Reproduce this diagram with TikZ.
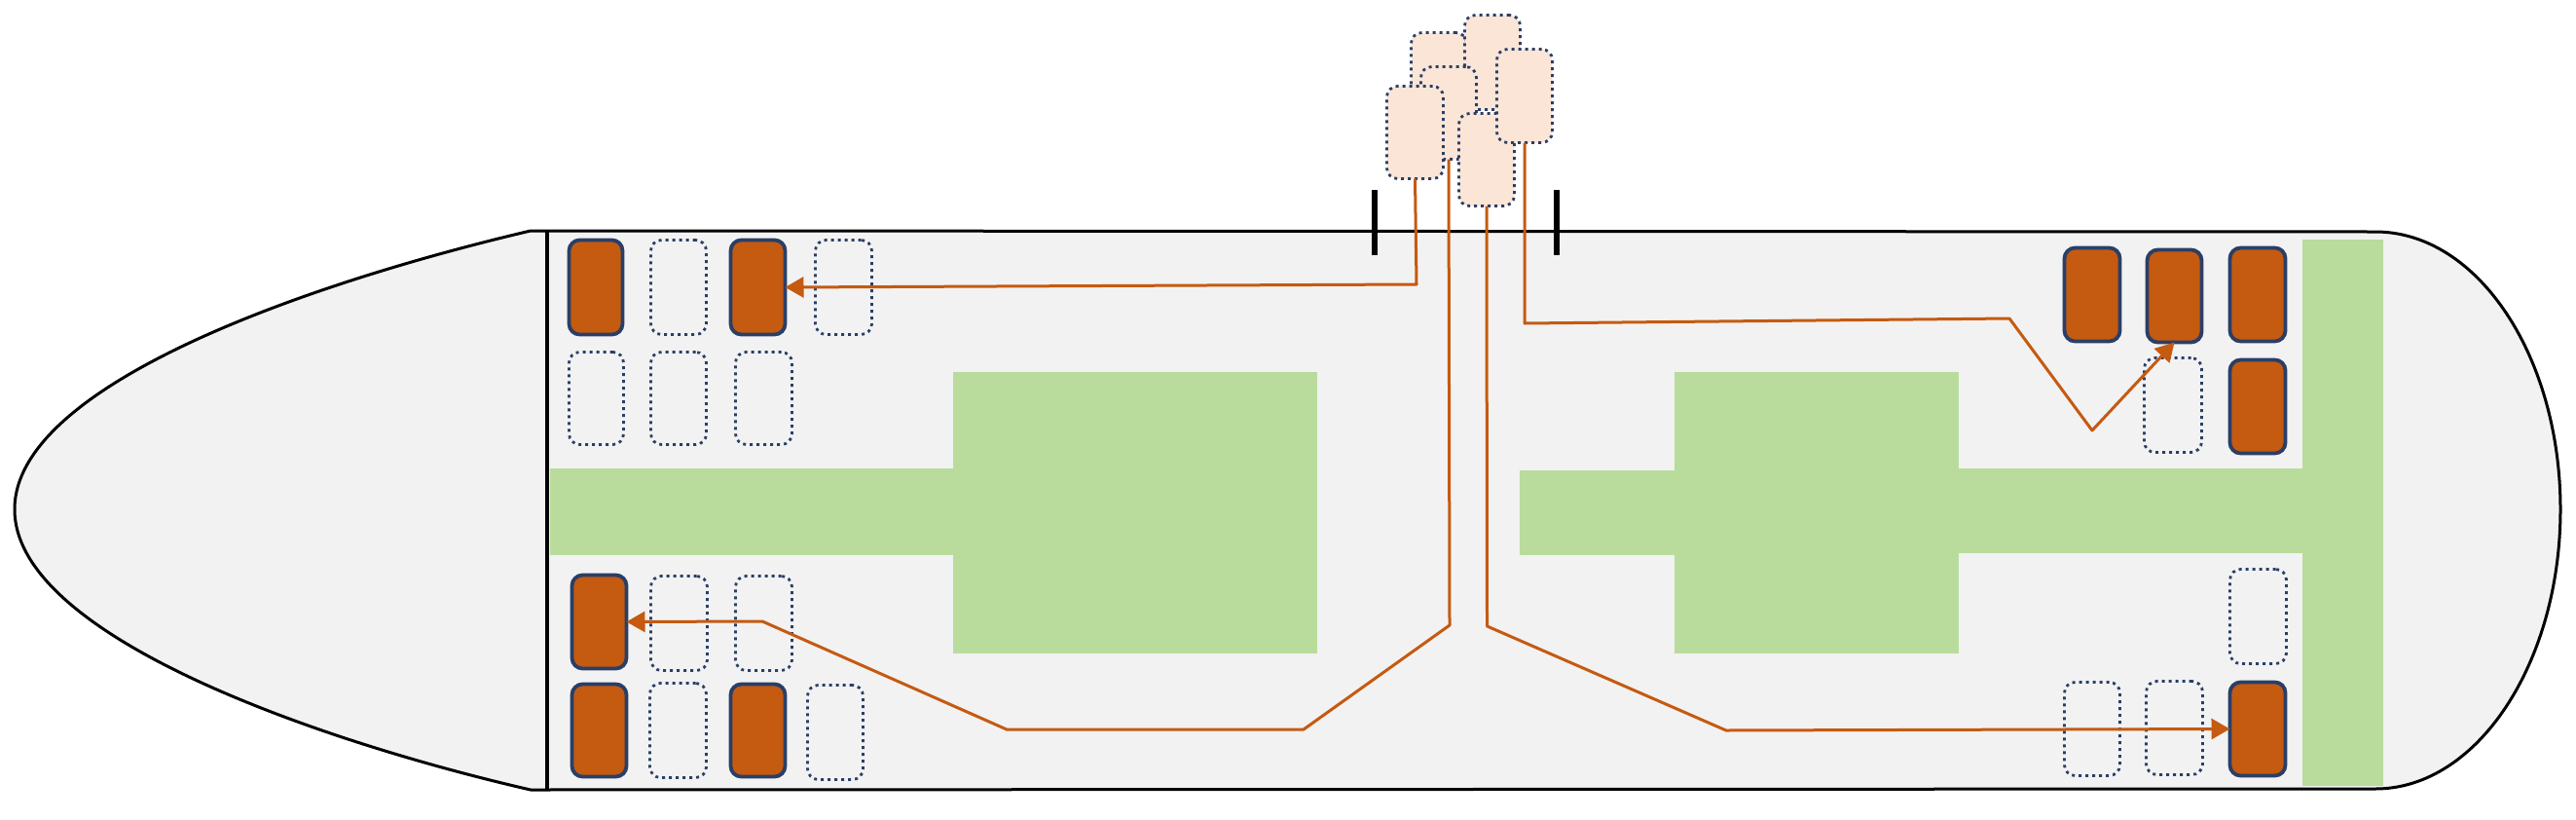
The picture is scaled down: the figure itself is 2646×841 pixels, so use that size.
\documentclass[tikz,border=0pt]{standalone}
\usetikzlibrary{arrows.meta}
\definecolor{hullgrey}{HTML}{F2F2F2}
\definecolor{zonegreen}{HTML}{B9DC9D}
\definecolor{cargo}{HTML}{C55A11}
\definecolor{navy}{HTML}{2A3F66}
\definecolor{peach}{HTML}{FBE5D6}
\tikzset{
  hull/.style={draw=black,line width=1.5pt,fill=hullgrey,line join=round},
  zone/.style={fill=zonegreen,draw=none},
  slotbase/.style={rectangle,rounded corners=5.5pt,inner sep=0pt,outer sep=0pt},
  fullslot/.style={slotbase,draw=navy,line width=1.9pt,fill=cargo},
  emptyslot/.style={slotbase,draw=navy,line width=1.4pt,dash pattern=on 1.5pt off 2pt},
  waitslot/.style={emptyslot,fill=peach},
  route/.style={draw=cargo,line width=1.5pt,line join=round},
  routearrow/.style={route,-{Triangle[length=9.5pt,width=10.5pt]}},
  gate/.style={draw=black,line width=2.6pt}
}
\newcommand{\slotbox}[6]{%
  \pgfmathsetmacro{\cxx}{(#3+#5)/2}\pgfmathsetmacro{\cyy}{(#4+#6)/2}%
  \pgfmathsetmacro{\wdd}{(#5-#3-3)*0.5}\pgfmathsetmacro{\htt}{(#6-#4-3)*0.5}%
  \node[#2,minimum width=\wdd pt,minimum height=\htt pt] (#1) at (\cxx,\cyy) {};%
}
\begin{document}
\begin{tikzpicture}[x=0.5pt,y=-0.5pt]
\useasboundingbox (0,0) rectangle (2646,841);
% hull
\draw[hull] (545,237) .. controls (340,285) and (15,390) .. (15,523)
  .. controls (15,656) and (340,764) .. (545,811)
  -- (2440,810) .. controls (2545,810) and (2630,680) .. (2630,523)
  .. controls (2630,366) and (2545,238) .. (2440,238) -- cycle;
\draw[black,line width=1.8pt] (562,237) -- (562,811);
% green zones
\fill[zone] (565,481) rectangle (979,570);
\fill[zone] (979,382) rectangle (1353,671);
\fill[zone] (1561,483) rectangle (1720,570);
\fill[zone] (1720,382) rectangle (2012,671);
\fill[zone] (2012,481) rectangle (2365,568);
\fill[zone] (2365,246) rectangle (2448,807);
% gates
\draw[gate] (1412,195) -- (1412,262);
\draw[gate] (1599,195) -- (1599,262);
% top-left slots
\slotbox{a1}{fullslot}{583}{245}{641}{345}
\slotbox{a2}{emptyslot}{667}{245}{727}{345}
\slotbox{a3}{fullslot}{749}{245}{808}{345}
\slotbox{a4}{emptyslot}{836}{245}{897}{345}
\slotbox{b1}{emptyslot}{583}{360}{642}{458}
\slotbox{b2}{emptyslot}{667}{360}{727}{458}
\slotbox{b3}{emptyslot}{754}{360}{815}{458}
% bottom-left slots
\slotbox{c1}{fullslot}{586}{589}{645}{688}
\slotbox{c2}{emptyslot}{667}{590}{728}{690}
\slotbox{c3}{emptyslot}{754}{590}{815}{690}
\slotbox{d1}{fullslot}{586}{701}{645}{799}
\slotbox{d2}{emptyslot}{666}{700}{727}{800}
\slotbox{d3}{fullslot}{749}{701}{808}{799}
\slotbox{d4}{emptyslot}{828}{702}{888}{802}
% top-right slots
\slotbox{e1}{fullslot}{2119}{253}{2179}{352}
\slotbox{e2}{fullslot}{2204}{255}{2263}{353}
\slotbox{e3}{fullslot}{2289}{253}{2349}{352}
\slotbox{f2}{emptyslot}{2201}{366}{2263}{466}
\slotbox{f3}{fullslot}{2289}{368}{2349}{467}
% bottom-right slots
\slotbox{g3}{emptyslot}{2289}{583}{2350}{683}
\slotbox{h1}{emptyslot}{2119}{699}{2179}{798}
\slotbox{h2}{emptyslot}{2203}{698}{2264}{797}
\slotbox{h3}{fullslot}{2289}{699}{2349}{798}
% waiting slots
\slotbox{wa}{waitslot}{1448}{32}{1508}{132}
\slotbox{wb}{waitslot}{1503}{14}{1563}{114}
\slotbox{wc}{waitslot}{1458}{67}{1518}{165}
\slotbox{wd}{waitslot}{1423}{87}{1484}{185}
\slotbox{we}{waitslot}{1497}{115}{1557}{213}
\slotbox{wf}{waitslot}{1536}{49}{1596}{148}
% way points
\coordinate (r1a) at (1455,292);
\coordinate (r2a) at (1489,642);
\coordinate (r2b) at (1339,749);
\coordinate (r2c) at (1034,749);
\coordinate (r2d) at (783,638);
\coordinate (r3a) at (1527.5,643);
\coordinate (r3b) at (1773,750);
\coordinate (r4a) at (1566,332);
\coordinate (r4b) at (2064,327);
\coordinate (r4c) at (2149,442);
% routes
\draw[routearrow] (wd.south) -- (r1a) -- (a3.east);
\draw[routearrow] (wc.south) -- (r2a) -- (r2b) -- (r2c) -- (r2d) -- (c1.east);
\draw[routearrow] (we.south) -- (r3a) -- (r3b) -- (h3.west);
\draw[routearrow] (wf.south) -- (r4a) -- (r4b) -- (r4c) -- (e2.south);
\end{tikzpicture}
\end{document}
